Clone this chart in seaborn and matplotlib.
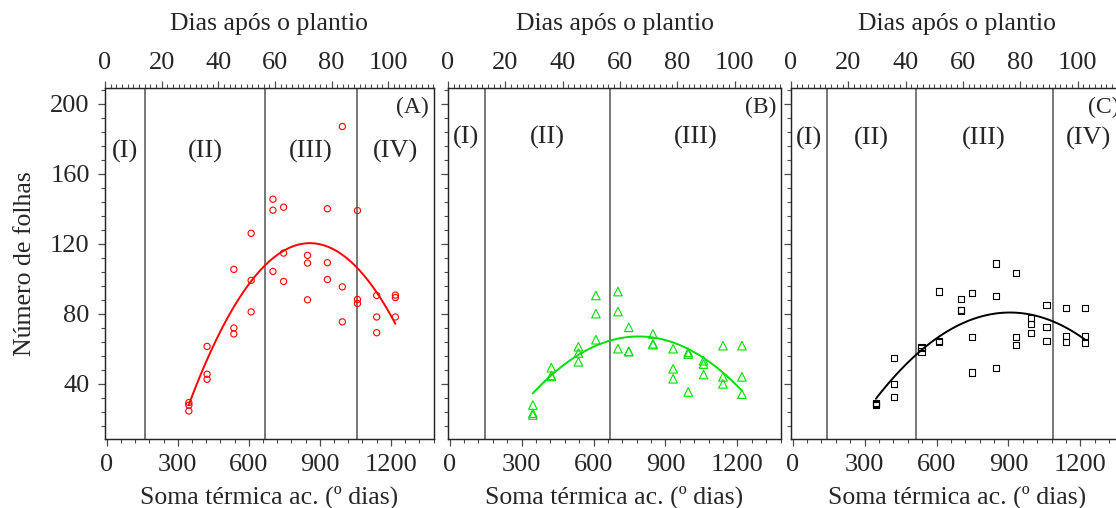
import numpy as np
import pandas as pd
import matplotlib
matplotlib.use("Agg")
import matplotlib.pyplot as plt
import seaborn as sns
from matplotlib.ticker import MultipleLocator

# ---------------- data ----------------
sample_thermal = [347, 424, 537, 610, 702, 747, 848, 932, 995, 1059, 1140, 1219]

leaves_a = [[29.3, 27.8, 24.5], [61.4, 45.5, 42.6], [105.4, 71.9, 68.5],
            [126.0, 99.1, 81.1], [145.5, 139.2, 104.2], [140.9, 114.7, 98.5],
            [113.4, 109.0, 88.0], [140.0, 109.2, 99.6], [187.0, 95.4, 75.4],
            [139.0, 88.2, 85.9], [90.5, 78.2, 69.2], [90.7, 89.3, 78.2]]

leaves_b = [[27.9, 23.2, 22.2], [49.2, 44.8, 44.2], [61.2, 57.6, 52.6],
            [90.5, 80.1, 65.2], [92.7, 81.3, 60.1], [72.3, 58.5, 58.5],
            [68.5, 62.9, 62.4], [60.1, 48.6, 42.9], [58.0, 57.0, 35.4],
            [53.2, 51.3, 45.3], [61.8, 44.0, 40.0], [61.8, 44.0, 34.1]]

leaves_c = [[29.1, 28.5, 27.8], [54.7, 40.0, 32.3], [61.2, 60.4, 58.5],
            [92.8, 64.5, 64.0], [88.5, 82.4, 81.9], [92.0, 66.7, 46.5],
            [108.8, 90.1, 49.0], [103.1, 66.7, 62.2], [77.8, 74.0, 68.9],
            [84.9, 72.7, 64.3], [83.4, 67.3, 63.7], [83.4, 67.3, 63.3]]

phase_bounds_a = [163, 667, 1056]
phase_bounds_b = [147, 667]
phase_bounds_c = [143, 514, 1084]
phase_names = ["(I)", "(II)", "(III)", "(IV)"]
panel_tags = ["(A)", "(B)", "(C)"]

y_ticks = [40, 80, 120, 160, 200]
x_ticks = [0, 300, 600, 900, 1200]
day_ticks = [0, 20, 40, 60, 80, 100]

# ---------------- style ----------------
sns.set_style("ticks")
plt.rcParams["font.family"] = ["Liberation Serif", "DejaVu Serif"]
plt.rcParams["axes.linewidth"] = 0.9


def long_df(vals):
    xs, ys = [], []
    for x, reps in zip(sample_thermal, vals):
        for v in reps:
            xs.append(x)
            ys.append(v)
    return pd.DataFrame({"soma": xs, "folhas": ys})


fig = plt.figure(figsize=(11.16, 5.08), dpi=100)
W, H = 1116, 508
boxes = [(105, 329), (448, 333), (791, 333)]
top_px, bot_px = 88, 439

panels = [
    (leaves_a, phase_bounds_a, "red", "o", 20, 172.5),
    (leaves_b, phase_bounds_b, "#00e000", "^", 38, 180.5),
    (leaves_c, phase_bounds_c, "black", "s", 20, 180.0),
]
XLIM = (-7, 1382)
YLIM = (8.5, 209)

for i, ((lft, wid), (vals, bounds, col, mk, ms, ylab)) in enumerate(zip(boxes, panels)):
    ax = fig.add_axes([lft / W, (H - bot_px) / H, wid / W, (bot_px - top_px) / H])
    df = long_df(vals)
    for b in bounds:
        ax.axvline(b, color="0.38", lw=1.2, zorder=1)
    sns.regplot(data=df, x="soma", y="folhas", order=2, ci=None, scatter=False,
                truncate=True, color=col, line_kws={"lw": 1.4}, ax=ax)
    sns.scatterplot(data=df, x="soma", y="folhas", marker=mk, s=ms,
                    fc="none", ec=col, linewidth=0.8, ax=ax, zorder=3)
    ax.set_xlim(*XLIM)
    ax.set_ylim(*YLIM)
    ax.set_xticks(x_ticks)
    ax.xaxis.set_minor_locator(MultipleLocator(60))
    ax.set_yticks(y_ticks)
    ax.yaxis.set_minor_locator(MultipleLocator(8))
    ax.tick_params(axis="both", which="major", length=5, width=0.9,
                   labelsize=19, pad=6, color="0.3")
    ax.tick_params(axis="both", which="minor", length=3, width=0.8, color="0.3")
    ax.set_xlabel("Soma térmica ac. (º dias)", fontsize=18.5, labelpad=7)
    if i == 0:
        ax.set_ylabel("Número de folhas", fontsize=18.5, labelpad=10)
    else:
        ax.set_ylabel("")
        ax.tick_params(axis="y", labelleft=False)
    # phase labels
    edges = [XLIM[0]] + bounds + [XLIM[1]]
    for k in range(len(edges) - 1):
        ax.text((edges[k] + edges[k + 1]) / 2, ylab, phase_names[k],
                ha="center", va="center", fontsize=19)
    ax.text(0.985, 0.975, panel_tags[i], transform=ax.transAxes,
            ha="right", va="top", fontsize=17)

    ax2 = ax.twiny()
    ax2.set_xlim(0, 116.2)
    ax2.set_xticks(day_ticks)
    ax2.xaxis.set_minor_locator(MultipleLocator(2))
    ax2.tick_params(axis="x", which="major", length=5, width=0.9,
                    labelsize=19, pad=5, color="0.3")
    ax2.tick_params(axis="x", which="minor", length=3, width=0.8, color="0.3")
    ax2.set_xlabel("Dias após o plantio", fontsize=18.5, labelpad=16)

fig.savefig("out.png", dpi=100)
